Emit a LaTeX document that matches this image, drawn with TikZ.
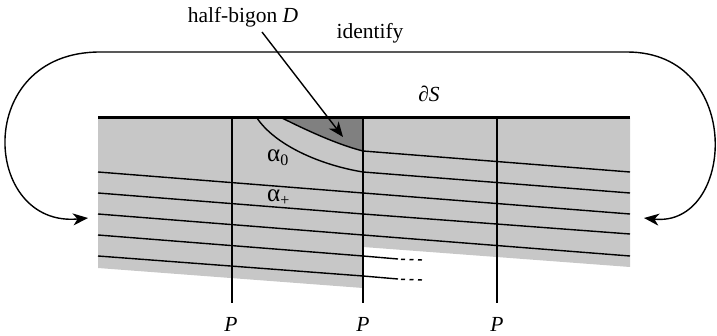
\documentclass[tikz,border=0pt]{standalone}
\usepackage{fontspec}
\setmainfont{Liberation Serif}
\usetikzlibrary{arrows.meta}
\definecolor{lgray}{RGB}{199,199,199}
\definecolor{dgray}{RGB}{128,128,128}
\newcommand{\alphalab}[1]{{\fontsize{25}{28}\selectfont α}\raisebox{-3.5pt}{\fontsize{16}{18}\selectfont #1}}
\begin{document}
\begin{tikzpicture}[x=1pt,y=-1pt,
  lab/.style={inner sep=0pt, font=\fontsize{21.5}{25}\selectfont},
  curveline/.style={line width=1.4pt},
  bdry/.style={line width=3pt},
  arr/.style={line width=1.4pt, -{Stealth[length=15pt,width=12pt,inset=4.5pt]}},
  darr/.style={line width=1.4pt, {Stealth[length=15pt,width=12pt,inset=4.5pt]}-{Stealth[length=15pt,width=12pt,inset=4.5pt]}},
  dotseg/.style={line width=1.4pt, dash pattern=on 4pt off 4.5pt}]
\useasboundingbox (0,0) rectangle (717,336);
% gray regions
\fill[lgray] (98,118) -- (363,118) -- (363,288) -- (98,268) -- cycle;
\fill[lgray] (363,118) -- (630,118) -- (630,267) -- (363,247) -- cycle;
\fill[dgray] (282,118) .. controls (300,127) and (335,144) .. (363,151) -- (363,118) -- cycle;
% arcs
\draw[curveline] (98,172) -- (363,193) -- (630,214);
\draw[curveline] (98,193) -- (363,214) -- (630,234);
\draw[curveline] (98,214) -- (363,235) -- (630,256);
\draw[curveline] (98,235) -- (363,256) -- (398,259);
\draw[curveline] (98,256) -- (363,276) -- (398,279);
\draw[dotseg] (401,259.3) -- (423,260);
\draw[dotseg] (401,279.3) -- (423,280);
\draw[curveline] (282,118) .. controls (300,127) and (335,144) .. (363,151) -- (630,172);
\draw[curveline] (257,118) .. controls (275,145) and (320,165) .. (363,172) -- (630,193);
% vertical arcs P
\coordinate (t1) at (232,118); \coordinate (b1) at (232,303);
\coordinate (t2) at (363,118); \coordinate (b2) at (363,303);
\coordinate (t3) at (497,118); \coordinate (b3) at (497,303);
\draw[curveline] (t1) -- (b1);
\draw[curveline] (t2) -- (b2);
\draw[curveline] (t3) -- (b3);
\node[lab, anchor=base] (P1) at (231,331) {\textit{P}};
\node[lab, anchor=base] (P2) at (363,331) {\textit{P}};
\node[lab, anchor=base] (P3) at (497,331) {\textit{P}};
% boundary
\draw[bdry] (98,118) -- (630,118);
% labels
\node[lab, anchor=base] (hb) at (243,23) {half-bigon \textit{D}};
\node[lab, anchor=base] (ident) at (370,39) {identify};
\node[lab, anchor=base] (dS) at (429,102) {\textit{∂S}};
\node[lab, anchor=base west] (a0) at (267,162) {\alphalab{0}};
\node[lab, anchor=base west] (ap) at (267,202) {\alphalab{+}};
% arrows
\coordinate (hbs) at (262,32);
\coordinate (hbt) at (343,137);
\draw[arr] (hbs) -- (hbt);
\coordinate (idL) at (88,218);
\coordinate (idR) at (644,218);
\draw[darr] (idL) .. controls (-18,228) and (-28,52) .. (100,52) -- (627,52) .. controls (745,52) and (735,228) .. (idR);
\end{tikzpicture}
\end{document}
